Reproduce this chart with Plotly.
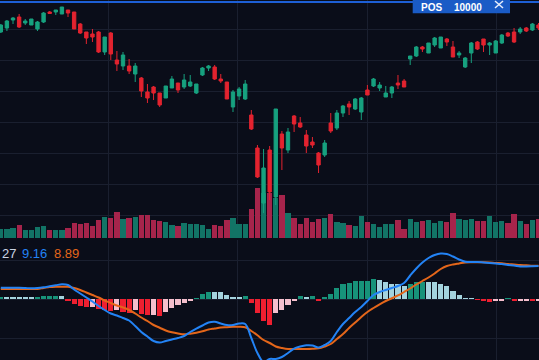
import plotly.graph_objects as go

# ---------------- data ----------------
bars = list(range(89))

open_ = [26.8, 27.2, 28.0, 28.3, 27.7, 27.5, 27.1, 27.8, 28.8, 28.8,
         28.6, 29.0, 28.8, 27.6, 26.8, 26.6, 26.8, 24.8, 26.7, 24.0,
         23.4, 23.4, 22.6, 22.2, 20.8, 21.3, 20.7, 20.2, 21.2, 21.7,
         21.3, 21.4, 20.7, 22.5, 23.2, 23.3, 22.1, 21.8, 19.3, 20.4,
         20.1, 18.5, 15.2, 9.7, 15.0, 10.3, 16.6, 15.0, 18.4, 17.7,
         16.5, 15.8, 14.7, 14.5, 17.7, 17.2, 18.7, 19.6, 19.1, 18.8,
         21.0, 21.4, 21.2, 20.3, 20.7, 21.7, 21.9, 24.1, 24.4, 25.3,
         24.7, 25.5, 25.2, 26.1, 25.3, 24.5, 23.3, 24.7, 25.8, 26.1,
         25.5, 24.7, 25.7, 26.7, 26.8, 26.8, 27.2, 27.0, 27.5]
high = [27.6, 28.0, 28.3, 28.6, 28.1, 28.1, 27.9, 28.8, 28.9, 29.0,
        29.3, 29.0, 28.8, 27.7, 26.8, 27.1, 26.9, 26.3, 26.8, 24.9,
        24.8, 24.1, 23.7, 22.3, 21.6, 21.4, 20.7, 21.4, 22.4, 21.7,
        22.6, 22.5, 21.6, 23.3, 23.5, 23.5, 22.6, 21.8, 21.0, 21.3,
        22.0, 19.0, 15.5, 15.1, 15.4, 19.1, 16.9, 17.2, 18.5, 18.3,
        17.0, 16.3, 14.8, 16.0, 18.7, 19.0, 19.5, 19.9, 20.2, 20.3,
        21.5, 22.2, 21.8, 21.4, 21.4, 22.5, 22.1, 24.4, 25.4, 25.4,
        25.7, 26.3, 26.3, 26.2, 25.9, 24.9, 24.3, 25.8, 25.9, 26.1,
        25.8, 26.0, 26.6, 26.8, 27.2, 27.3, 27.3, 27.7, 27.7]
low = [26.7, 26.9, 27.6, 27.2, 27.5, 27.5, 26.9, 27.7, 28.6, 28.5,
       28.6, 28.3, 27.1, 26.6, 25.6, 25.8, 24.7, 24.5, 24.0, 22.9,
       23.0, 22.6, 21.8, 20.3, 19.7, 20.0, 19.3, 20.2, 21.2, 20.7,
       21.1, 21.3, 20.6, 22.4, 22.9, 22.0, 21.7, 20.1, 18.8, 20.0,
       20.0, 17.0, 12.2, 8.7, 10.0, 9.5, 13.0, 14.7, 16.8, 17.2,
       14.7, 15.2, 12.7, 14.3, 16.7, 17.0, 18.3, 18.5, 19.0, 18.0,
       20.5, 21.3, 20.9, 20.3, 20.2, 21.1, 21.3, 23.5, 24.3, 24.8,
       24.7, 25.3, 25.2, 25.4, 24.3, 24.2, 23.2, 23.7, 25.0, 24.8,
       24.5, 24.7, 25.6, 26.3, 25.7, 26.6, 26.8, 26.9, 27.0]
close = [27.5, 27.9, 28.2, 27.3, 27.9, 28.1, 27.8, 28.7, 28.65, 29.0,
         29.3, 28.7, 27.1, 26.7, 26.2, 26.3, 24.8, 26.3, 24.6, 23.6,
         24.5, 22.9, 23.4, 20.9, 20.2, 20.7, 19.5, 21.4, 22.1, 21.0,
         22.0, 21.8, 21.6, 23.2, 23.4, 22.1, 21.9, 20.1, 20.8, 21.1,
         21.6, 17.1, 12.3, 13.2, 10.8, 19.1, 15.2, 16.8, 17.6, 17.3,
         15.4, 15.5, 13.5, 15.7, 16.9, 18.7, 19.4, 19.3, 20.1, 20.2,
         20.5, 22.1, 21.5, 20.7, 21.3, 21.5, 21.3, 24.4, 25.3, 25.1,
         25.7, 26.2, 26.3, 25.8, 24.3, 24.7, 24.2, 25.7, 25.1, 25.5,
         25.7, 25.9, 26.5, 26.4, 25.8, 27.1, 26.9, 27.6, 27.2]
volume = [90, 94, 100, 130, 84, 84, 107, 120, 77, 80,
          80, 97, 150, 137, 154, 120, 177, 207, 200, 257,
          190, 200, 214, 230, 230, 177, 167, 157, 127, 124,
          147, 137, 144, 134, 94, 130, 120, 177, 200, 144,
          144, 290, 500, 450, 450, 400, 433, 250, 200, 137,
          200, 157, 190, 203, 237, 163, 147, 127, 120, 217,
          157, 143, 110, 137, 143, 177, 93, 193, 160, 167,
          183, 150, 167, 157, 247, 193, 177, 190, 170, 170,
          217, 163, 170, 153, 243, 170, 137, 177, 193]
dif = [2.83, 2.83, 2.8, 2.8, 2.75, 2.68, 2.75, 2.93, 3.18, 3.43,
       3.68, 3.5, 2.38, 1.38, 0.38, -0.63, -1.75, -2.75, -3.63, -4.13,
       -4.75, -5.38, -6.75, -8.25, -9.38, -10.5, -10.88, -10.5, -10.13, -9.75,
       -9.25, -8.25, -7.38, -6.63, -5.88, -5.68, -6.13, -6.5, -6.5, -6.13,
       -6.25, -9.75, -13.5, -15.75, -15.0, -15.0, -14.5, -13.5, -12.38, -11.88,
       -11.58, -11.63, -12.13, -11.5, -10.5, -8.25, -6.25, -4.75, -3.25, -2.0,
       -0.5, 1.0, 1.75, 2.25, 2.75, 3.25, 4.0, 5.88, 7.63, 9.13,
       10.25, 11.0, 11.38, 11.25, 10.63, 9.88, 9.33, 9.25, 9.25, 9.13,
       9.0, 8.88, 8.75, 8.5, 8.38, 8.13, 8.13, 8.18, 8.25]
dea = [2.5, 2.5, 2.5, 2.5, 2.5, 2.5, 2.5, 2.75, 3.0, 3.08,
       3.08, 3.05, 2.75, 2.25, 1.63, 1.0, 0.38, -0.38, -1.0, -1.63,
       -2.13, -2.75, -3.63, -4.63, -5.5, -6.5, -7.18, -7.88, -8.33, -8.63,
       -8.83, -8.68, -8.43, -8.08, -7.63, -7.38, -7.13, -7.05, -6.95, -6.93,
       -7.08, -8.0, -9.08, -10.25, -11.0, -11.88, -12.25, -12.5, -12.5, -12.5,
       -12.5, -12.45, -12.33, -11.88, -11.25, -10.0, -8.75, -7.25, -5.88, -4.5,
       -3.25, -2.25, -1.33, -0.5, 0.18, 0.88, 1.75, 2.63, 3.63, 4.5,
       5.38, 6.38, 7.5, 8.25, 8.63, 8.88, 9.13, 9.18, 9.18, 9.18,
       9.13, 9.0, 8.93, 8.75, 8.63, 8.5, 8.43, 8.33, 8.3]
hist = [0.5, 0.5, 0.38, 0.33, 0.3, 0.28, 0.5, 0.68, 0.75, 0.83,
        0.8, -0.5, -1.25, -1.68, -2.08, -2.0, -2.4, -2.75, -2.9, -2.8,
        -3.2, -3.4, -2.75, -3.75, -4.0, -3.95, -4.25, -3.25, -2.33, -1.5,
        -0.93, -0.43, 0.25, 1.18, 1.75, 1.7, 1.65, 0.93, 0.58, 0.33,
        0.83, -1.08, -3.5, -5.43, -6.5, -3.5, -2.68, -1.58, -0.43, 0.68,
        0.58, 0.68, -0.43, 0.5, 1.25, 2.75, 3.75, 4.08, 4.43, 4.58,
        4.6, 5.08, 4.83, 4.25, 3.83, 3.75, 3.18, 3.75, 4.18, 4.25,
        4.18, 4.15, 3.83, 3.33, 2.08, 1.08, 0.18, 0.1, -0.25, -0.33,
        -0.63, -0.5, -0.38, 0.1, -0.58, -0.33, -0.3, -0.4, -0.3]
macd_labels = ["27", "9.16", "8.89"]
pos_labels = ["POS", "10000"]

# ---------------- styles ----------------
W, H = 539, 360
BG = "#0a0d19"
GRID = "#1a1f2f"
UP, DOWN = "#17a17f", "#e3232f"
VOL_UP, VOL_DOWN = "#127466", "#a6244b"
H_UP, H_UPFADE, H_DN, H_DNFADE = "#17937a", "#a4d3de", "#ee1f30", "#f5bfcd"
BLUE, ORANGE = "#2383f5", "#e4661a"

vol_colors = [VOL_UP if c >= o else VOL_DOWN for o, c in zip(open_, close)]
hist_colors = []
prev = None
for v in hist:
    if v >= 0:
        hist_colors.append(H_UP if (prev is None or v > prev) else H_UPFADE)
    else:
        hist_colors.append(H_DN if (prev is None or v < prev) else H_DNFADE)
    prev = v

fig = go.Figure()
fig.add_trace(go.Bar(x=bars, y=volume, marker=dict(color=vol_colors, line=dict(width=0)),
                     width=0.86, xaxis="x", yaxis="y", hoverinfo="skip"))
fig.add_trace(go.Candlestick(x=bars, open=open_, high=high, low=low, close=close,
                             increasing=dict(line=dict(color=UP, width=1), fillcolor=UP),
                             decreasing=dict(line=dict(color=DOWN, width=1), fillcolor=DOWN),
                             xaxis="x", yaxis="y2", hoverinfo="skip"))
fig.add_trace(go.Bar(x=bars, y=hist, marker=dict(color=hist_colors, line=dict(width=0)),
                     width=0.84, xaxis="x", yaxis="y3", hoverinfo="skip"))
fig.add_trace(go.Scatter(x=bars, y=dea, mode="lines", line=dict(color=ORANGE, width=2, shape="spline"),
                         xaxis="x", yaxis="y3", hoverinfo="skip"))
fig.add_trace(go.Scatter(x=bars, y=dif, mode="lines", line=dict(color=BLUE, width=2, shape="spline"),
                         xaxis="x", yaxis="y3", hoverinfo="skip"))

top_dom = [1 - 238 / H, 1]
ax_common = dict(showticklabels=False, ticks="", zeroline=False, showline=False, fixedrange=True)
fig.update_layout(
    width=W, height=H, autosize=False,
    margin=dict(l=0, r=0, t=0, b=0, pad=0),
    paper_bgcolor=BG, plot_bgcolor=BG,
    showlegend=False, bargap=0, boxgap=0.45, boxgroupgap=0,
    xaxis=dict(domain=[0, 1], range=[-0.131, 88.08], showgrid=True, gridcolor=GRID, gridwidth=1,
               tick0=17.55, dtick=21.2, rangeslider=dict(visible=False), **ax_common),
    yaxis=dict(domain=top_dom, range=[0, 2380], showgrid=False, **ax_common),
    yaxis2=dict(domain=top_dom, range=[6.2, 30], overlaying="y", showgrid=True, gridcolor=GRID,
                tick0=27.1, dtick=3.1, **ax_common),
    yaxis3=dict(domain=[0, 1 - 240 / H], range=[-15.25, 14.75], showgrid=True, gridcolor=GRID,
                tick0=0, dtick=9.75, **ax_common),
)

def px(x):
    return x / W

def py(y):
    return 1 - y / H

shapes = [
    dict(type="line", xref="paper", yref="paper", x0=0, x1=1, y0=py(2), y1=py(2),
         line=dict(color="#1d5fd6", width=2)),
    dict(type="rect", xref="paper", yref="paper", x0=px(412.7), x1=px(510), y0=py(13.3), y1=py(-4),
         fillcolor="#1a5bc6", line=dict(width=0)),
    dict(type="line", xref="paper", yref="paper", x0=px(495), x1=px(503), y0=py(1), y1=py(8),
         line=dict(color="#e8eefc", width=1.5)),
    dict(type="line", xref="paper", yref="paper", x0=px(495), x1=px(503), y0=py(8), y1=py(1),
         line=dict(color="#e8eefc", width=1.5)),
]
fig.update_layout(shapes=shapes)

ann = []
for text, x0, col in zip(macd_labels, [-0.5, 20, 52], ["#cbd4e3", BLUE, ORANGE]):
    ann.append(dict(text=text, x=px(x0), y=py(253.5), xref="paper", yref="paper",
                    xanchor="left", yanchor="middle", showarrow=False,
                    font=dict(family="Liberation Sans, Arial", size=13, color=col)))
for text, x0 in zip(pos_labels, [419, 452]):
    ann.append(dict(text="<b>%s</b>" % text, x=px(x0), y=py(0.5), xref="paper", yref="paper",
                    xanchor="left", yanchor="top", showarrow=False,
                    font=dict(family="Liberation Sans, Arial", size=10, color="#ffffff")))
fig.update_layout(annotations=ann)

fig.write_html("out.html", config=dict(displayModeBar=False),
               post_script="document.body.style.margin='0';document.body.style.background='%s';" % BG)
